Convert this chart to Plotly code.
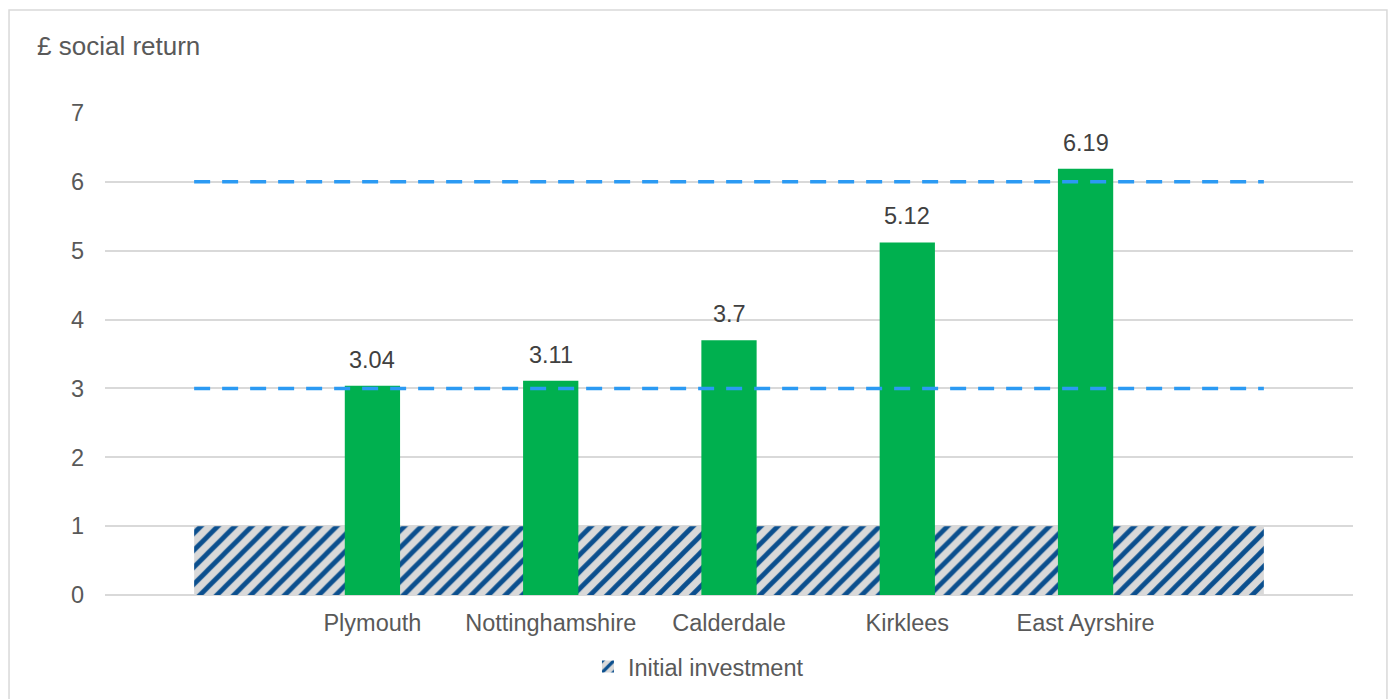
import plotly.graph_objects as go

# Areas and their estimated social return per £1 invested
areas = ["Plymouth", "Nottinghamshire", "Calderdale", "Kirklees", "East Ayrshire"]
social_return = [3.04, 3.11, 3.7, 5.12, 6.19]

# Baseline investment band and reference levels
initial_investment = 1
reference_levels = [3, 6]

y_ticks = [0, 1, 2, 3, 4, 5, 6, 7]

# Category slots: an empty slot either side of the five areas
n_slots = len(areas) + 2
slot_x = list(range(n_slots))
area_x = slot_x[1:-1]
band_centre = (slot_x[0] + slot_x[-1]) / 2
band_width = slot_x[-1] - slot_x[0]

FONT = "Liberation Sans, Arial, sans-serif"
GRID = "#d9d9d9"

fig = go.Figure()

# Hatched band showing the initial £1 investment (one wide bar spanning all slots)
fig.add_trace(go.Bar(
    x=[band_centre],
    y=[initial_investment],
    width=band_width,
    marker=dict(
        color=GRID,
        line=dict(width=0),
        pattern=dict(shape="/", fgcolor="#0b4f8e", bgcolor=GRID,
                     size=12, solidity=0.4, fillmode="replace"),
    ),
    name="Initial investment",
    showlegend=True,
    hoverinfo="skip",
))

# Social return bars
fig.add_trace(go.Bar(
    x=area_x,
    y=social_return,
    marker=dict(color="#00b04f", line=dict(width=0)),
    width=0.31,
    showlegend=False,
    name="Social return",
))

# Dashed reference lines
for lvl in reference_levels:
    fig.add_trace(go.Scatter(
        x=[slot_x[0], slot_x[-1]],
        y=[lvl, lvl],
        mode="lines",
        line=dict(color="#2b9af3", width=3.5, dash="16px,12px"),
        showlegend=False,
        hoverinfo="skip",
    ))

# Value labels above each bar
annotations = []
for x, v in zip(area_x, social_return):
    annotations.append(dict(
        x=x, y=v, xref="x", yref="y",
        text=f"{v:g}", showarrow=False,
        yanchor="bottom", yshift=11,
        font=dict(family=FONT, size=23.5, color="#404040"),
    ))

# Axis title placed top-left
annotations.append(dict(
    x=-0.0561, y=1.139, xref="paper", yref="paper",
    text="£ social return", showarrow=False,
    xanchor="left", yanchor="middle",
    font=dict(family=FONT, size=26, color="#595959"),
))

fig.update_layout(
    width=1388, height=699,
    margin=dict(l=105, r=35, t=113, b=104, autoexpand=False),
    paper_bgcolor="white",
    plot_bgcolor="white",
    font=dict(family=FONT, size=23.5, color="#595959"),
    barmode="overlay",
    annotations=annotations,
    shapes=[dict(
        type="rect", xref="paper", yref="paper",
        x0=-0.0769, x1=1.0272, y0=-0.3, y1=1.2137,
        line=dict(color=GRID, width=1.5), fillcolor="rgba(0,0,0,0)",
        layer="below",
    )],
    legend=dict(
        orientation="h",
        x=0.387, y=-0.149, xanchor="left", yanchor="middle",
        font=dict(family=FONT, size=23.5, color="#595959"),
        bgcolor="rgba(0,0,0,0)",
    ),
    showlegend=True,
)

fig.update_xaxes(
    range=[-0.5, n_slots - 0.5],
    tickmode="array",
    tickvals=area_x,
    ticktext=areas,
    showgrid=False,
    zeroline=False,
    showline=False,
    ticks="",
    ticklabelstandoff=11,
    tickfont=dict(family=FONT, size=23.5, color="#595959"),
)

fig.update_yaxes(
    range=[0, 7],
    tickmode="array",
    tickvals=y_ticks,
    showgrid=True,
    gridcolor=GRID,
    gridwidth=1.5,
    zeroline=True,
    zerolinecolor=GRID,
    zerolinewidth=1.5,
    showline=False,
    ticks="",
    ticklabelstandoff=20,
    tickfont=dict(family=FONT, size=23.5, color="#595959"),
)

fig.write_html("out.html")
